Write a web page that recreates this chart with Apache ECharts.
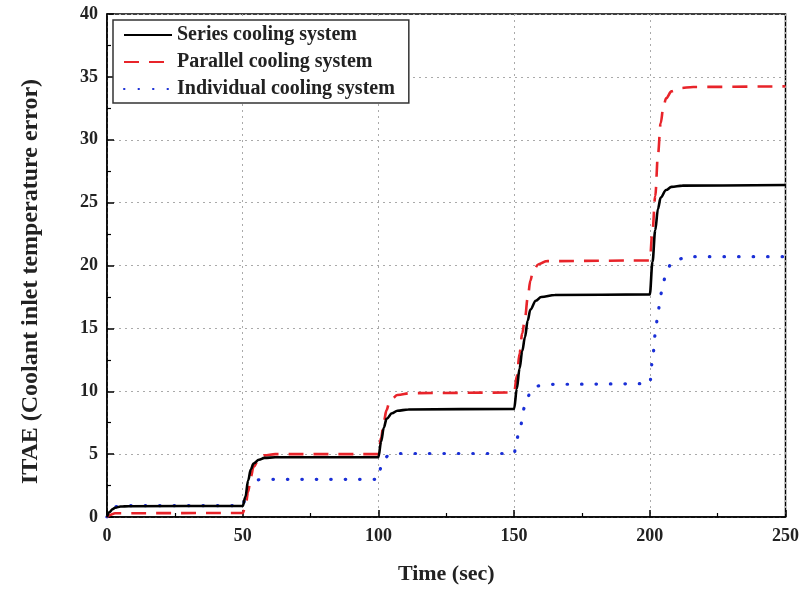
<!DOCTYPE html>
<html><head><meta charset="utf-8">
<script src="https://cdn.jsdelivr.net/npm/echarts@6/dist/echarts.min.js"></script>
<style>html,body{margin:0;padding:0;background:#fff}#c{width:802px;height:590px}</style>
</head><body><div id="c"></div>
<script>
const seriesNames = ['Series cooling system', 'Parallel cooling system', 'Individual cooling system'];
const xTicks = [0, 50, 100, 150, 200, 250];
const yTicks = [0, 5, 10, 15, 20, 25, 30, 35, 40];
const seriesCooling = [[0,0],[1,0.4],[2,0.62],[3,0.74],[5,0.83],[8,0.86],[50,0.88],[51,1.6],[52,2.9],[53,3.8],[54,4.25],[56,4.55],[58,4.7],[62,4.75],[100,4.75],[101,6.0],[102,7.1],[103,7.8],[105,8.25],[107,8.45],[111,8.55],[150,8.6],[151,10.2],[152,11.8],[153,13.2],[154,14.3],[155,15.6],[156,16.5],[158,17.2],[160,17.5],[165,17.65],[200,17.7],[201,20.3],[202,22.8],[203,24.5],[204,25.4],[206,26.0],[208,26.25],[212,26.35],[250,26.4]];
const parallelCooling = [[0,0],[1,0.15],[3,0.3],[50,0.32],[51,0.8],[52,2.0],[53,3.2],[54,4.0],[56,4.6],[58,4.9],[62,5.0],[100,5.0],[101,6.3],[102,7.6],[103,8.5],[104,9.1],[105,9.4],[107,9.7],[112,9.85],[150,9.9],[151,11.2],[152,13.0],[153,14.6],[154,15.8],[155,17.4],[156,18.8],[157,19.6],[159,20.1],[162,20.35],[200,20.4],[201,22.8],[202,25.5],[203,28.8],[204,31.3],[205,32.6],[206,33.3],[208,33.85],[211,34.1],[216,34.2],[250,34.25]];
const individualCooling = [[0,0],[1,0.45],[2,0.7],[4,0.85],[7,0.9],[50,0.9],[51,1.5],[52,2.3],[53,2.7],[55,2.95],[58,3.0],[100,3.0],[101,4.0],[102,4.6],[104,4.95],[107,5.05],[150,5.05],[151,6.2],[152,7.0],[154,8.8],[156,9.9],[158,10.4],[162,10.55],[200,10.6],[201,12.5],[202,14.5],[203,16.2],[204,17.7],[205,18.7],[206,19.4],[208,20.2],[210,20.5],[215,20.7],[250,20.7]];

const FONT = '"Liberation Serif", "Times New Roman", serif';
const chart = echarts.init(document.getElementById('c'), null, {renderer: 'canvas'});
const axisCommon = {
  axisLine: {show: true, onZero: false, lineStyle: {color: '#000', width: 1.5}},
  axisTick: {show: true, inside: true, length: 7, lineStyle: {color: '#000', width: 1.5}},
  minorTick: {show: true, splitNumber: 2, length: 4, lineStyle: {color: '#000', width: 1.2}},
  splitLine: {show: true, lineStyle: {color: '#aaa', type: [2, 4], width: 1}},
  axisLabel: {fontFamily: FONT, fontWeight: 'bold', fontSize: 18, color: '#222'},
  nameTextStyle: {fontFamily: FONT, fontWeight: 'bold', fontSize: 22, color: '#222'}
};
chart.setOption({
  animation: false,
  backgroundColor: '#fff',
  grid: {left: 107, right: 13, top: 14, bottom: 72, show: true, borderColor: '#000', borderWidth: 1.5, backgroundColor: 'transparent'},
  legend: {
    orient: 'vertical', left: 113, top: 20,
    data: seriesNames,
    itemWidth: 48, itemHeight: 14, itemGap: 7,
    padding: [5, 14, 4, 10],
    borderColor: '#333', borderWidth: 1.5, backgroundColor: '#fff',
    itemStyle: {opacity: 0},
    textStyle: {fontFamily: FONT, fontWeight: 'bold', fontSize: 20, color: '#222'}
  },
  xAxis: Object.assign({}, axisCommon, {
    type: 'value', min: xTicks[0], max: xTicks[xTicks.length - 1], interval: 50,
    name: 'Time (sec)', nameLocation: 'middle', nameGap: 46,
    axisLabel: Object.assign({}, axisCommon.axisLabel, {margin: 10})
  }),
  yAxis: Object.assign({}, axisCommon, {
    type: 'value', min: yTicks[0], max: yTicks[yTicks.length - 1], interval: 5,
    name: 'ITAE (Coolant inlet temperature error)', nameLocation: 'middle', nameGap: 64,
    nameTextStyle: Object.assign({}, axisCommon.nameTextStyle, {fontSize: 24, padding: [0, 32, 0, 0]}),
    axisLabel: Object.assign({}, axisCommon.axisLabel, {margin: 9})
  }),
  series: [
    {name: seriesNames[0], type: 'line', data: seriesCooling, symbol: 'none', smooth: 0.35, smoothMonotone: 'x',
     color: '#000', lineStyle: {color: '#000', width: 2.6}, z: 3},
    {name: seriesNames[1], type: 'line', data: parallelCooling, symbol: 'none', smooth: 0.35, smoothMonotone: 'x',
     color: '#e8242a', lineStyle: {color: '#e8242a', width: 2.6, type: [15, 10]}, z: 2},
    {name: seriesNames[2], type: 'line', data: individualCooling, symbol: 'none', smooth: 0.35, smoothMonotone: 'x',
     color: '#1a2fd6', lineStyle: {color: '#1a2fd6', width: 3.2, type: [0.5, 14], cap: 'round'}, z: 1}
  ]
});
</script>
</body></html>
